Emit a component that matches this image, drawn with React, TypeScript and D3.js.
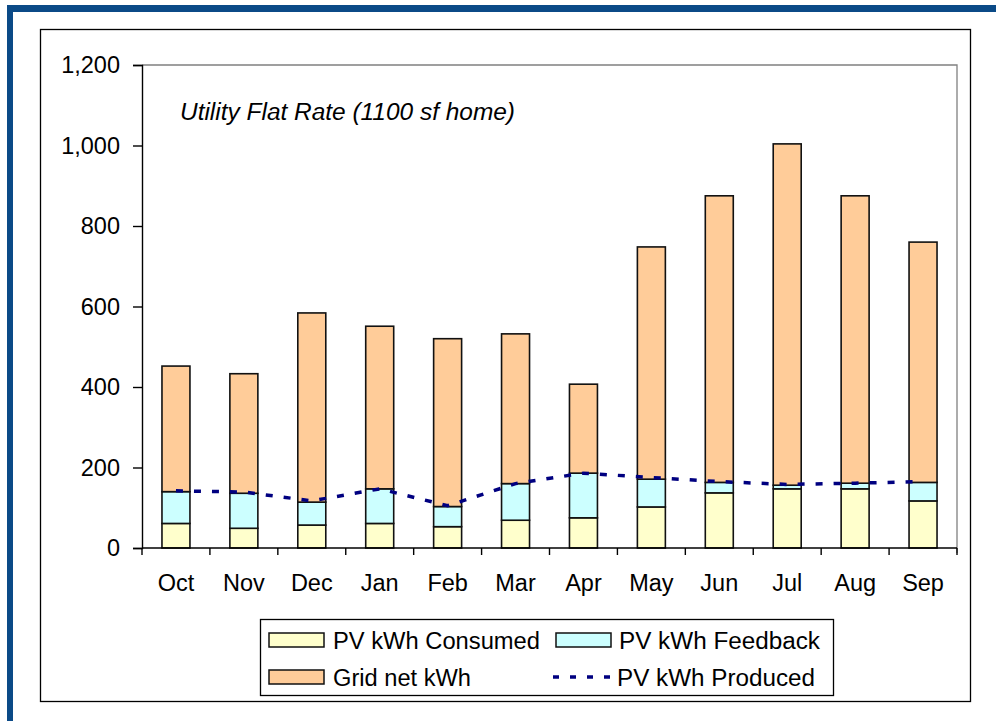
import { useEffect, useRef } from "react";
import * as d3 from "d3";

const months = ["Oct", "Nov", "Dec", "Jan", "Feb", "Mar", "Apr", "May", "Jun", "Jul", "Aug", "Sep"];
const pvConsumed = [61, 49, 57, 61, 53, 69, 75, 102, 137, 147, 147, 117];
const pvFeedback = [79, 87, 57, 86, 50, 91, 111, 69, 26, 9, 14, 46];
const gridNet = [312, 297, 470, 404, 417, 372, 221, 577, 712, 848, 714, 597];
const pvProduced = [142, 139, 117, 147, 105, 160, 186, 175, 165, 158, 161, 165];
const yTicks = [0, 200, 400, 600, 800, 1000, 1200];

const seriesNames = ["PV kWh Consumed", "PV kWh Feedback", "Grid net kWh", "PV kWh Produced"];
const seriesColors = ["#FFFFCC", "#CCFFFF", "#FFCC99"];

const FONT = "'Liberation Sans', Arial, sans-serif";

export default function App() {
  const svgRef = useRef<SVGSVGElement>(null);

  useEffect(() => {
    const svg = d3.select(svgRef.current);
    svg.selectAll("*").remove();

    const plot = { left: 142, right: 957, top: 65, bottom: 548 };

    // blue frame
    svg.append("rect").attr("x", 7).attr("y", 5).attr("width", 989).attr("height", 7).attr("fill", "#0B4A87");
    svg.append("rect").attr("x", 7).attr("y", 5).attr("width", 6).attr("height", 716).attr("fill", "#0B4A87");

    // chart box
    svg.append("rect").attr("x", 40.5).attr("y", 29.5).attr("width", 930).attr("height", 672)
      .attr("fill", "white").attr("stroke", "black").attr("stroke-width", 1.3);

    const x = d3.scaleBand<string>().domain(months).range([plot.left, plot.right])
      .paddingInner(0.588).paddingOuter(0.294);
    const step = x.step();
    const y = d3.scaleLinear().domain([0, 1200]).range([plot.bottom, plot.top]);

    // plot area border (gray top/right)
    svg.append("path")
      .attr("d", `M${plot.left},${plot.top}H${plot.right}V${plot.bottom + 5}`)
      .attr("fill", "none").attr("stroke", "#808080").attr("stroke-width", 1.3);

    // stacked bars
    const rows = months.map((m, i) => ({ month: m, c: pvConsumed[i], f: pvFeedback[i], g: gridNet[i] }));
    const stack = d3.stack<any>().keys(["c", "f", "g"])(rows);

    stack.forEach((layer, li) => {
      svg.append("g").selectAll("rect").data(layer).join("rect")
        .attr("x", (d: any) => x(d.data.month)!)
        .attr("width", x.bandwidth())
        .attr("y", (d) => y(d[1]))
        .attr("height", (d) => y(d[0]) - y(d[1]))
        .attr("fill", seriesColors[li])
        .attr("stroke", "#111")
        .attr("stroke-width", 1.6);
    });

    // produced line
    const line = d3.line<number>()
      .x((_, i) => x(months[i])! + x.bandwidth() / 2)
      .y((d) => y(d));
    svg.append("path").datum(pvProduced)
      .attr("d", line)
      .attr("fill", "none")
      .attr("stroke", "#000080")
      .attr("stroke-width", 3.5)
      .attr("stroke-dasharray", "7 11");

    // y axis
    const yAxis = svg.append("g").attr("transform", `translate(${plot.left},0)`)
      .call(d3.axisLeft(y).tickValues(yTicks).tickFormat(d3.format(",")).tickSize(9).tickPadding(13));
    yAxis.select(".domain").attr("stroke", "black").attr("stroke-width", 1.4);
    yAxis.selectAll("line").attr("stroke", "black").attr("stroke-width", 1.4);
    yAxis.selectAll("text").attr("font-family", FONT).attr("font-size", 23.5).attr("fill", "black");

    // x axis
    svg.append("line").attr("x1", plot.left).attr("x2", plot.right)
      .attr("y1", plot.bottom).attr("y2", plot.bottom)
      .attr("stroke", "black").attr("stroke-width", 1.4);
    svg.append("g").selectAll("line").data(d3.range(months.length + 1)).join("line")
      .attr("x1", (i) => plot.left + i * step).attr("x2", (i) => plot.left + i * step)
      .attr("y1", plot.bottom).attr("y2", plot.bottom + 7)
      .attr("stroke", "black").attr("stroke-width", 1.4);
    svg.append("g").selectAll("text").data(months).join("text")
      .attr("x", (m) => x(m)! + x.bandwidth() / 2)
      .attr("y", 591)
      .attr("text-anchor", "middle")
      .attr("font-family", FONT).attr("font-size", 23.5)
      .text((m) => m);

    // title
    svg.append("text").attr("x", 180).attr("y", 120)
      .attr("font-family", FONT).attr("font-size", 23).attr("font-style", "italic")
      .attr("textLength", 335).attr("lengthAdjust", "spacingAndGlyphs")
      .text("Utility Flat Rate (1100 sf home)");

    // legend
    const lg = svg.append("g");
    lg.append("rect").attr("x", 260.5).attr("y", 619.5).attr("width", 573).attr("height", 76)
      .attr("fill", "white").attr("stroke", "black").attr("stroke-width", 1.3);
    const items = [
      { name: seriesNames[0], color: seriesColors[0], x: 269, y: 640, tx: 333, w: 207 },
      { name: seriesNames[1], color: seriesColors[1], x: 556, y: 640, tx: 619, w: 201 },
      { name: seriesNames[2], color: seriesColors[2], x: 269, y: 677, tx: 333, w: 138 },
    ];
    items.forEach((it) => {
      lg.append("rect").attr("x", it.x).attr("y", it.y - 7).attr("width", 55).attr("height", 14)
        .attr("fill", it.color).attr("stroke", "#111").attr("stroke-width", 1.5);
      lg.append("text").attr("x", it.tx).attr("y", it.y + 8.5)
        .attr("font-family", FONT).attr("font-size", 23)
        .attr("textLength", it.w).attr("lengthAdjust", "spacingAndGlyphs")
        .text(it.name);
    });
    lg.append("line").attr("x1", 553).attr("x2", 616).attr("y1", 677).attr("y2", 677)
      .attr("stroke", "#000080").attr("stroke-width", 3.5).attr("stroke-dasharray", "6 11");
    lg.append("text").attr("x", 617).attr("y", 685.5)
      .attr("font-family", FONT).attr("font-size", 23)
      .attr("textLength", 198).attr("lengthAdjust", "spacingAndGlyphs")
      .text(seriesNames[3]);
  }, []);

  return (
    <svg
      ref={svgRef}
      width={996}
      height={721}
      style={{ position: "absolute", left: 0, top: 0, background: "white" }}
    />
  );
}
